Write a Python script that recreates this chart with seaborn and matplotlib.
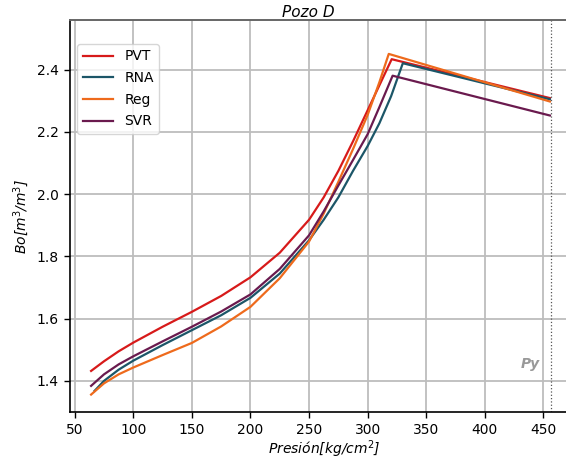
import numpy as np
import pandas as pd
import matplotlib
matplotlib.use("Agg")
import matplotlib.pyplot as plt
import seaborn as sns

# ---- data ----
methods = ["PVT", "RNA", "Reg", "SVR"]

x_pvt = [64, 75, 87.5, 100, 125, 150, 175, 200, 225, 250, 262.5, 275, 287.5, 300, 310, 320.5, 455.5]
y_pvt = [1.432, 1.463, 1.495, 1.523, 1.574, 1.622, 1.673, 1.733, 1.812, 1.918, 1.99, 2.075, 2.17, 2.27, 2.35, 2.434, 2.309]

x_rna = [67, 75, 87.5, 100, 125, 150, 175, 200, 225, 250, 262.5, 275, 287.5, 300, 310, 320, 330, 455.5]
y_rna = [1.368, 1.400, 1.436, 1.465, 1.515, 1.563, 1.611, 1.667, 1.745, 1.852, 1.918, 1.99, 2.075, 2.155, 2.228, 2.315, 2.421, 2.305]

x_reg = [64, 75, 87.5, 100, 125, 150, 175, 200, 225, 250, 262.5, 275, 287.5, 300, 310, 318, 455.5]
y_reg = [1.356, 1.392, 1.421, 1.443, 1.483, 1.522, 1.575, 1.638, 1.73, 1.848, 1.938, 2.04, 2.145, 2.255, 2.36, 2.451, 2.298]

x_svr = [64, 75, 87.5, 100, 125, 150, 175, 200, 225, 250, 262.5, 275, 287.5, 300, 310, 321.3, 455.5]
y_svr = [1.384, 1.421, 1.453, 1.479, 1.527, 1.574, 1.623, 1.678, 1.76, 1.868, 1.945, 2.028, 2.11, 2.193, 2.28, 2.381, 2.253]

py_x = 456.3
yticks = [1.4, 1.6, 1.8, 2.0, 2.2, 2.4]
xticks = [50, 100, 150, 200, 250, 300, 350, 400, 450]

colors = {"PVT": "#d71a1a", "RNA": "#1c5668", "Reg": "#ee6a1c", "SVR": "#6a1a4e"}

frames = []
for name, xs, ys in [("PVT", x_pvt, y_pvt), ("RNA", x_rna, y_rna),
                     ("Reg", x_reg, y_reg), ("SVR", x_svr, y_svr)]:
    frames.append(pd.DataFrame({"x": xs, "y": ys, "Metodo": name}))
df = pd.concat(frames, ignore_index=True)

fig = plt.figure(figsize=(5.66, 4.62), dpi=100)
ax = fig.add_axes([70 / 566, 1 - 412 / 462, 508.6 / 566, 392 / 462])

sns.lineplot(data=df, x="x", y="y", hue="Metodo", hue_order=methods,
             palette=colors, estimator=None, sort=False, linewidth=1.6, ax=ax)

ax.axvline(py_x, color="#555555", linestyle=":", linewidth=0.9)
ax.text(438.5, 1.455, "Py", color="#999999", fontsize=10, fontweight="bold",
        fontstyle="italic", ha="center", va="center")

ax.set_xlim(46, 480)
ax.set_ylim(1.30, 2.56)
ax.set_xticks(xticks)
ax.set_yticks(yticks)
ax.set_yticklabels([f"{v:.1f}" for v in yticks])
ax.grid(True, color="#bdbdbd", linewidth=1.3)
ax.set_axisbelow(True)
ax.tick_params(labelsize=10, length=4.5, width=1)
for s in ["left", "bottom"]:
    ax.spines[s].set_color("black")
    ax.spines[s].set_linewidth(1.2)
ax.spines["top"].set_color("#666666")
ax.spines["top"].set_linewidth(1.4)

ax.set_title("Pozo D", fontstyle="italic", fontsize=11, pad=2,
             x=(308 - 70) / 508.6)
ax.set_xlabel("Presión[kg/cm$^2$]", fontstyle="italic", fontsize=10, labelpad=1)
ax.set_ylabel("Bo[m$^3$/m$^3$]", fontstyle="italic", fontsize=10)

leg = ax.legend(loc="upper left", bbox_to_anchor=(0.0, 1 - 17 / 392), fontsize=10,
                frameon=True, handlelength=2.2, labelspacing=0.55)
leg.set_title(None)

fig.savefig("out.png", dpi=100)
